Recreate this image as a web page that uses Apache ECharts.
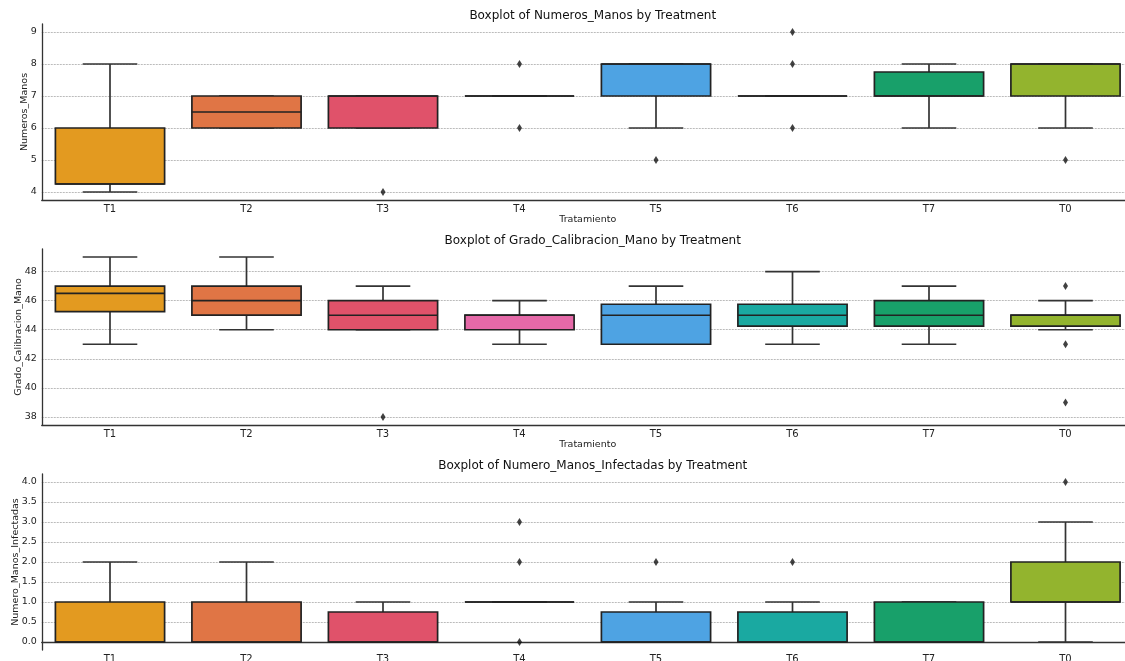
<!DOCTYPE html>
<html>
<head>
<meta charset="utf-8">
<script src="https://cdn.jsdelivr.net/npm/echarts@6/dist/echarts.min.js"></script>
<style>
  html, body { margin: 0; padding: 0; background: #fff; }
  #chart { width: 1125px; height: 661px; }
</style>
</head>
<body>
<div id="chart"></div>
<script>
const treatments = ['T1', 'T2', 'T3', 'T4', 'T5', 'T6', 'T7', 'T0']
const boxColors = ['#e39a20', '#e07545', '#e0526a', '#e569a8', '#4ea3e3', '#1aa9a1', '#18a06a', '#93b42e']

// [low, q1, median, q3, high]
const manosBox = [
  [4, 4.25, 4.25, 6, 8],
  [6, 6, 6.5, 7, 7],
  [6, 6, 7, 7, 7],
  [7, 7, 7, 7, 7],
  [6, 7, 8, 8, 8],
  [7, 7, 7, 7, 7],
  [6, 7, 7, 7.75, 8],
  [6, 7, 8, 8, 8],
]
const manosOutliers = [['T3', 4], ['T4', 8], ['T4', 6], ['T5', 5], ['T6', 9], ['T6', 8], ['T6', 6], ['T0', 5]]

const calibBox = [
  [43, 45.25, 46.5, 47, 49],
  [44, 45, 46, 47, 49],
  [44, 44, 45, 46, 47],
  [43, 44, 45, 45, 46],
  [43, 43, 45, 45.75, 47],
  [43, 44.25, 45, 45.75, 48],
  [43, 44.25, 45, 46, 47],
  [44, 44.25, 45, 45, 46],
]
const calibOutliers = [['T3', 38], ['T0', 47], ['T0', 43], ['T0', 39]]

const infectBox = [
  [0, 0, 0, 1, 2],
  [0, 0, 0, 1, 2],
  [0, 0, 0, 0.75, 1],
  [1, 1, 1, 1, 1],
  [0, 0, 0, 0.75, 1],
  [0, 0, 0, 0.75, 1],
  [0, 0, 0, 1, 1],
  [0, 1, 1, 2, 3],
]
const infectOutliers = [['T4', 3], ['T4', 2], ['T4', 0], ['T5', 2], ['T6', 2], ['T0', 4]]

const panels = [
  { title: 'Boxplot of Numeros_Manos by Treatment', yName: 'Numeros_Manos', box: manosBox, out: manosOutliers,
    min: 3.75, max: 9.25, step: 1, top: 24, nameGap: 12 },
  { title: 'Boxplot of Grado_Calibracion_Mano by Treatment', yName: 'Grado_Calibracion_Mano', box: calibBox, out: calibOutliers,
    min: 37.45, max: 49.55, step: 2, top: 249, nameGap: 18 },
  { title: 'Boxplot of Numero_Manos_Infectadas by Treatment', yName: 'Numero_Manos_Infectadas', box: infectBox, out: infectOutliers,
    min: -0.2, max: 4.2, step: 0.5, top: 474, nameGap: 21, decimals: 1 },
]

const font = 'DejaVu Sans'
const gridLeft = 41.75
const gridRight = -8.75
const plotHeight = 176
const plotCenter = (gridLeft + 1125 - gridRight) / 2

function renderBox(params, api) {
  const i = api.value(0)
  const low = api.coord([i, api.value(1)])
  const q1 = api.coord([i, api.value(2)])
  const med = api.coord([i, api.value(3)])
  const q3 = api.coord([i, api.value(4)])
  const high = api.coord([i, api.value(5)])
  const band = api.size([1, 0])[0]
  const half = band * 0.4
  const cap = band * 0.2
  const cx = q1[0]
  const lineStyle = { stroke: '#333', lineWidth: 1.7 }
  return {
    type: 'group',
    children: [
      { type: 'line', shape: { x1: cx, y1: q3[1], x2: cx, y2: high[1] }, style: lineStyle },
      { type: 'line', shape: { x1: cx, y1: q1[1], x2: cx, y2: low[1] }, style: lineStyle },
      { type: 'line', shape: { x1: cx - cap, y1: high[1], x2: cx + cap, y2: high[1] }, style: lineStyle },
      { type: 'line', shape: { x1: cx - cap, y1: low[1], x2: cx + cap, y2: low[1] }, style: lineStyle },
      {
        type: 'rect',
        shape: { x: cx - half, y: q3[1], width: half * 2, height: q1[1] - q3[1] },
        style: { fill: boxColors[params.dataIndex], stroke: '#222', lineWidth: 1.7 },
      },
      { type: 'line', shape: { x1: cx - half, y1: med[1], x2: cx + half, y2: med[1] }, style: { stroke: '#222', lineWidth: 1.6 } },
    ],
  }
}

const option = {
  animation: false,
  backgroundColor: '#fff',
  title: panels.map((p) => ({
    text: p.title,
    left: plotCenter,
    top: p.top - 19,
    textAlign: 'center',
    textStyle: { fontFamily: font, fontSize: 12, fontWeight: 'normal', color: '#111' },
  })),
  grid: panels.map((p) => ({
    left: gridLeft, right: gridRight, top: p.top, height: plotHeight,
    containLabel: false, outerBoundsMode: 'none',
  })),
  xAxis: panels.map((p, k) => ({
    type: 'category',
    gridIndex: k,
    data: treatments,
    name: 'Tratamiento',
    nameLocation: 'middle',
    nameGap: 15,
    nameMoveOverlap: false,
    nameTextStyle: { fontFamily: font, fontSize: 9.5, color: '#222' },
    axisLine: { lineStyle: { color: '#333', width: 1.3 } },
    axisTick: { alignWithLabel: true, inside: true, length: 3, lineStyle: { color: '#333' } },
    axisLabel: { fontFamily: font, fontSize: 10, color: '#222', margin: 4 },
    splitLine: { show: false },
  })),
  yAxis: panels.map((p, k) => ({
    type: 'value',
    gridIndex: k,
    min: p.min,
    max: p.max,
    minInterval: p.step,
    maxInterval: p.step,
    name: p.yName,
    nameLocation: 'middle',
    nameGap: p.nameGap,
    nameMoveOverlap: false,
    nameRotate: 90,
    nameTextStyle: { fontFamily: font, fontSize: 9.5, color: '#222' },
    axisLine: { show: true, lineStyle: { color: '#333', width: 1.3 } },
    axisTick: { show: false },
    axisLabel: {
      fontFamily: font, fontSize: 9.5, color: '#222', margin: 5,
      showMinLabel: false, showMaxLabel: false,
      formatter: (v) => (p.decimals ? v.toFixed(p.decimals) : String(v)),
    },
    splitLine: { show: true, showMinLine: false, showMaxLine: false, lineStyle: { color: '#aaa', width: 0.8, type: [2, 1] } },
  })),
  series: panels.flatMap((p, k) => [
    {
      type: 'custom',
      xAxisIndex: k,
      yAxisIndex: k,
      renderItem: renderBox,
      encode: { x: 0, y: [1, 2, 3, 4, 5] },
      data: treatments.map((t, i) => [i, ...p.box[i]]),
      z: 3,
    },
    {
      type: 'scatter',
      xAxisIndex: k,
      yAxisIndex: k,
      symbol: 'diamond',
      symbolSize: [5, 8],
      itemStyle: { color: '#111' },
      data: p.out,
      z: 4,
    },
  ]),
}

const chart = echarts.init(document.getElementById('chart'))
chart.setOption(option)
</script>
</body>
</html>
